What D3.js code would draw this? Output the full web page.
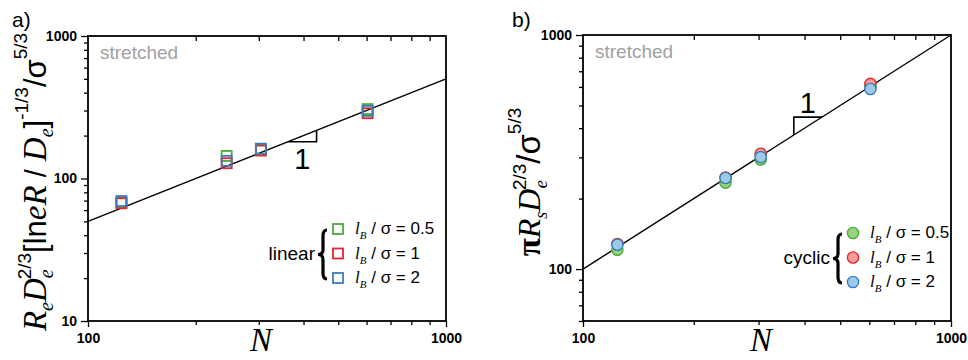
<!DOCTYPE html>
<html>
<head>
<meta charset="utf-8">
<script src="https://cdn.jsdelivr.net/npm/d3@7"></script>
<style>
  body { margin: 0; background: #fff; }
  svg { display: block; }
  .sans { font-family: "Liberation Sans", Arial, sans-serif; }
  .serif { font-family: "Liberation Serif", "Times New Roman", serif; }
</style>
</head>
<body>
<svg width="968" height="360"></svg>
<script>
// data
const N = [124, 244, 304, 604];
const linearLB05 = [68, 144, 160, 307];
const linearLB1 = [67, 128, 157, 287];
const linearLB2 = [69.5, 133, 162, 298];
const cyclicLB05 = [121, 234, 294, 600];
const cyclicLB1 = [128, 246, 311, 618];
const cyclicLB2 = [127, 245, 301, 588];
const legendValues = ["0.5", "1", "2"];

const fitN = [100, 1000];
const fitLinear = [50, 500];
const fitCyclic = [100, 1000];
const slopeLinearN = [362, 435];
const slopeCyclicN = [374, 446];

const xMajor = [100, 1000];
const xMinor = [200, 300, 400, 500, 600, 700, 800, 900];
const yMajorA = [10, 100, 1000];
const yMinorA = [20, 30, 40, 50, 60, 70, 80, 90, 200, 300, 400, 500, 600, 700, 800, 900];
const yMajorB = [100, 1000];
const yMinorB = [60, 70, 80, 90, 200, 300, 400, 500, 600, 700, 800, 900];

const strokeCol = ["#4aaa3c", "#e3262a", "#3a7dbd"];
const fillCol = ["#98d480", "#f59c9c", "#9dcbe7"];

var svg = d3.select("svg");

function makePanel(o) {
    var x = d3.scaleLog().domain([100, 1000]).range([o.left, o.right]);
    var y = d3.scaleLog().domain(o.yDomain).range([o.bottom, o.top]);
    var g = svg.append("g");
    var fmt = d3.format("d");

    // bottom axis
    g.append("g").attr("transform", `translate(0,${o.bottom})`)
        .call(d3.axisBottom(x).tickValues(xMajor).tickSize(6).tickPadding(6).tickFormat(fmt));
    g.append("g").attr("transform", `translate(0,${o.bottom})`)
        .call(d3.axisBottom(x).tickValues(xMinor).tickSize(4).tickFormat(""));
    // top axis, ticks inward
    g.append("g").attr("transform", `translate(0,${o.top})`)
        .call(d3.axisTop(x).tickValues(xMinor).tickSize(-5).tickFormat(""));
    // left axis
    g.append("g").attr("transform", `translate(${o.left},0)`)
        .call(d3.axisLeft(y).tickValues(o.yMajor).tickSize(7).tickPadding(4).tickFormat(fmt));
    g.append("g").attr("transform", `translate(${o.left},0)`)
        .call(d3.axisLeft(y).tickValues(o.yMinor).tickSize(4).tickFormat(""));

    g.selectAll(".domain").remove();
    g.selectAll(".tick line").attr("stroke", "#000").attr("stroke-width", 1.3);
    g.selectAll(".tick text")
        .attr("class", "sans")
        .style("font-size", "14px")
        .style("font-weight", "bold")
        .attr("fill", "#000");

    g.append("rect")
        .attr("x", o.left).attr("y", o.top)
        .attr("width", o.right - o.left).attr("height", o.bottom - o.top)
        .attr("fill", "none").attr("stroke", "#000").attr("stroke-width", 1.8);

    // fit line
    g.append("path")
        .datum(fitN.map((n, i) => [n, o.fit[i]]))
        .attr("d", d3.line().x(d => x(d[0])).y(d => y(d[1])))
        .attr("fill", "none").attr("stroke", "#000").attr("stroke-width", 1.4);

    // slope triangle
    var f = n => o.fit[0] * n / fitN[0];
    var s = o.slopeN;
    var tri = o.slopeBelow
        ? [[s[0], f(s[0])], [s[1], f(s[0])], [s[1], f(s[1])]]
        : [[s[0], f(s[0])], [s[0], f(s[1])], [s[1], f(s[1])]];
    g.append("path")
        .datum(tri)
        .attr("d", d3.line().x(d => x(d[0])).y(d => y(d[1])))
        .attr("fill", "none").attr("stroke", "#000").attr("stroke-width", 1.6);
    var mid = Math.sqrt(s[0] * s[1]);
    g.append("text").attr("class", "sans")
        .attr("x", x(mid))
        .attr("y", o.slopeBelow ? y(f(s[0])) + 27 : y(f(s[1])) - 4)
        .attr("text-anchor", "middle")
        .style("font-size", "29px")
        .text("1");

    // "stretched"
    g.append("text").attr("class", "sans")
        .attr("x", o.left + 12).attr("y", o.top + 23)
        .attr("fill", "#a0a0a0").style("font-size", "19px")
        .text("stretched");

    // panel letter
    g.append("text").attr("class", "sans")
        .attr("x", o.letterX).attr("y", 27)
        .style("font-size", "21px")
        .text(o.letter);

    // x label
    g.append("text").attr("class", "serif")
        .attr("x", (o.left + o.right) / 2 - 6).attr("y", 351)
        .attr("text-anchor", "middle")
        .style("font-size", "33px").style("font-style", "italic")
        .text("N");

    // data
    o.series.forEach((vals, k) => {
        var pts = g.append("g").selectAll("g").data(N.map((n, i) => [n, vals[i]])).join("g");
        if (o.shape === "square") {
            pts.append("rect")
                .attr("x", d => x(d[0]) - 5).attr("y", d => y(d[1]) - 5)
                .attr("width", 10).attr("height", 10)
                .attr("fill", "none").attr("stroke", strokeCol[k]).attr("stroke-width", 1.8);
        } else {
            pts.append("circle")
                .attr("cx", d => x(d[0])).attr("cy", d => y(d[1])).attr("r", 5.6)
                .attr("fill", fillCol[k]).attr("stroke", strokeCol[k]).attr("stroke-width", 1.4);
        }
    });

    // legend
    var lg = g.append("g");
    legendValues.forEach((v, k) => {
        var cy = o.legY + k * 24.5;
        if (o.shape === "square") {
            lg.append("rect").attr("x", o.legX - 5).attr("y", cy - 5)
                .attr("width", 10).attr("height", 10)
                .attr("fill", "none").attr("stroke", strokeCol[k]).attr("stroke-width", 1.8);
        } else {
            lg.append("circle").attr("cx", o.legX).attr("cy", cy).attr("r", 5.6)
                .attr("fill", fillCol[k]).attr("stroke", strokeCol[k]).attr("stroke-width", 1.4);
        }
        var t = lg.append("text").attr("x", o.legX + 17).attr("y", cy + 5).style("font-size", "17px");
        t.append("tspan").attr("class", "serif").style("font-style", "italic").text("l");
        t.append("tspan").attr("class", "serif").style("font-style", "italic")
            .style("font-size", "11px").attr("dy", 5).text("B");
        t.append("tspan").attr("class", "sans").attr("dy", -5).text(" / σ = " + v);
    });
    lg.append("text").attr("class", "sans")
        .attr("x", o.legX - 23).attr("y", o.legY + 31)
        .attr("text-anchor", "end").style("font-size", "19px")
        .text(o.legName);
    var bx = o.legX - 15, y0 = o.legY + 1, y1 = o.legY + 50, ym = (y0 + y1) / 2;
    lg.append("path")
        .attr("d", `M${bx + 4},${y0} Q${bx},${y0} ${bx},${y0 + 6} L${bx},${ym - 5} Q${bx},${ym} ${bx - 5},${ym} Q${bx},${ym} ${bx},${ym + 5} L${bx},${y1 - 6} Q${bx},${y1} ${bx + 4},${y1}`)
        .attr("fill", "none").attr("stroke", "#000").attr("stroke-width", 3.2);

    // y label
    var yl = g.append("text")
        .attr("transform", `translate(${o.yLabelX},182) rotate(-90)`)
        .attr("text-anchor", "middle");
    o.yLabel(yl);
    return g;
}

function part(t, cls, txt, size, italic, dy, dx, bold) {
    var s = t.append("tspan").attr("class", cls).style("font-size", size + "px").text(txt);
    if (italic) s.style("font-style", "italic");
    if (bold) s.style("font-weight", "bold");
    if (dy) s.attr("dy", dy);
    if (dx) s.attr("dx", dx);
    return s;
}

makePanel({
    left: 88, right: 446, top: 36, bottom: 321,
    yDomain: [10, 1000], yMajor: yMajorA, yMinor: yMinorA,
    fit: fitLinear, slopeN: slopeLinearN, slopeBelow: true,
    letter: "a)", letterX: 12,
    series: [linearLB05, linearLB1, linearLB2], shape: "square",
    legX: 338, legY: 229, legName: "linear",
    yLabelX: 46,
    yLabel: function (t) {
        part(t, "serif", "R", 33, true);
        part(t, "serif", "e", 20, true, 7);
        part(t, "serif", "D", 33, true, -7);
        part(t, "serif", "e", 20, true, 7);
        part(t, "sans", "2/3", 19, false, -22, -10);
        part(t, "sans", "[ln", 31, false, 15);
        part(t, "serif", "eR", 33, true);
        part(t, "sans", " / ", 29, false);
        part(t, "serif", "D", 33, true);
        part(t, "serif", "e", 20, true, 7);
        part(t, "sans", "]", 31, false, -7);
        part(t, "sans", "-1/3", 19, false, -18);
        part(t, "sans", "/σ", 31, false, 18);
        part(t, "sans", "5/3", 19, false, -19);
    }
});

makePanel({
    left: 583, right: 951, top: 35, bottom: 321,
    yDomain: [60, 1000], yMajor: yMajorB, yMinor: yMinorB,
    fit: fitCyclic, slopeN: slopeCyclicN, slopeBelow: false,
    letter: "b)", letterX: 512,
    series: [cyclicLB05, cyclicLB1, cyclicLB2], shape: "circle",
    legX: 853, legY: 233, legName: "cyclic",
    yLabelX: 540,
    yLabel: function (t) {
        part(t, "serif", "π", 33, false, 0, 0, true);
        part(t, "serif", "R", 32, true);
        part(t, "serif", "s", 18, true, 7);
        part(t, "serif", "D", 32, true, -7);
        part(t, "serif", "e", 19, true, 7);
        part(t, "sans", "2/3", 19, false, -21, -10);
        part(t, "sans", "/σ", 33, false, 14);
        part(t, "sans", "5/3", 19, false, -19);
    }
});
</script>
</body>
</html>
